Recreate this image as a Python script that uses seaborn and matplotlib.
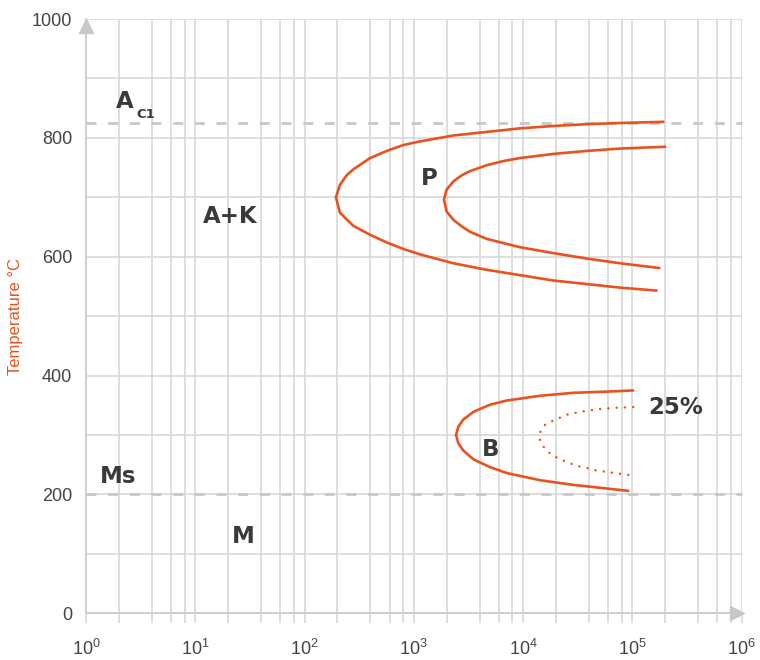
import matplotlib
matplotlib.use("Agg")
import matplotlib.pyplot as plt
import matplotlib.ticker as mticker
import pandas as pd
import seaborn as sns

# ---------------- data ----------------
# Pearlite start curve (outer): upper end -> nose -> lower end
p_start_time = [1.93e5, 7.73e4, 3.83e4, 1.89e4, 9.38e3, 4.65e3, 2.30e3, 1.14e3, 805, 566, 398, 280, 243, 211, 194,
                211, 243, 280, 398, 566, 805, 1.14e3, 2.30e3, 4.65e3, 9.38e3, 1.89e4, 3.83e4, 7.73e4, 1.67e5]
p_start_temp = [827, 825, 823, 820, 816, 810, 804, 794, 788, 778, 766, 747, 737, 721, 700,
                674, 663, 652, 637, 624, 613, 604, 589, 578, 569, 560, 554, 548, 543]

# Pearlite finish curve (inner)
p_end_time = [2.00e5, 7.73e4, 3.83e4, 1.90e4, 9.40e3, 6.61e3, 4.66e3, 3.27e3, 2.75e3, 2.31e3, 2.00e3, 1.89e3,
              2.00e3, 2.31e3, 2.75e3, 3.27e3, 4.66e3, 6.61e3, 9.40e3, 1.90e4, 3.83e4, 7.73e4, 1.77e5]
p_end_temp = [785, 782, 778, 773, 766, 761, 754, 744, 737, 727, 713, 696,
              676, 662, 651, 642, 630, 623, 616, 606, 597, 589, 581]

# Bainite start curve
b_start_time = [1.02e5, 5.83e4, 2.89e4, 1.43e4, 1.01e4, 7.10e3, 4.99e3, 3.52e3, 2.84e3, 2.56e3, 2.44e3,
                2.56e3, 2.84e3, 3.52e3, 4.99e3, 7.10e3, 1.01e4, 1.43e4, 2.89e4, 5.83e4, 9.20e4]
b_start_temp = [375, 373, 371, 366, 362, 358, 351, 339, 326, 314, 300,
                286, 274, 259, 246, 236, 230, 224, 216, 210, 206]

# Bainite 25 % curve (dotted)
b25_time = [1.02e5, 7.36e4, 5.18e4, 3.61e4, 2.60e4, 1.87e4, 1.59e4, 1.43e4, 1.41e4,
            1.45e4, 1.65e4, 1.94e4, 2.26e4, 2.65e4, 3.14e4, 3.75e4, 4.47e4, 5.32e4, 6.35e4, 7.57e4, 1.01e5]
b25_temp = [347, 346, 344, 340, 335, 324, 317, 304, 297,
            287, 273, 264, 258, 253, 248, 245, 241, 239, 237, 235, 232]

ac1_temp = 825
ms_temp = 200

x_ticks = [1e0, 1e1, 1e2, 1e3, 1e4, 1e5, 1e6]
x_tick_labels = ["$10^{0}$", "$10^{1}$", "$10^{2}$", "$10^{3}$", "$10^{4}$", "$10^{5}$", "$10^{6}$"]
y_ticks = [0, 200, 400, 600, 800, 1000]
y_label = "Temperature °C"

# ---------------- style ----------------
sns.set_theme(style="white")
plt.rcParams["font.family"] = ["Liberation Sans", "DejaVu Sans"]
plt.rcParams["mathtext.fontset"] = "custom"
plt.rcParams["mathtext.rm"] = "Liberation Sans"
plt.rcParams["mathtext.it"] = "Liberation Sans"
plt.rcParams["mathtext.default"] = "regular"

ORANGE = "#e8521f"
GRID = "#d5d5d5"
TXT = "#444444"
BOLD = "#3a3a3a"

fig = plt.figure(figsize=(7.6, 6.6), dpi=100)
ax = fig.add_axes([86 / 760, (660 - 613.3) / 660, (741.5 - 86) / 760, (613.3 - 19) / 660])

def curve(t, T, **kw):
    df = pd.DataFrame({"time": t, "temp": T})
    sns.lineplot(data=df, x="time", y="temp", sort=False, estimator=None, ax=ax,
                 color=ORANGE, zorder=5, **kw)

curve(p_start_time, p_start_temp, linewidth=1.9, solid_joinstyle="round")
curve(p_end_time, p_end_temp, linewidth=1.9, solid_joinstyle="round")
curve(b_start_time, b_start_temp, linewidth=1.9, solid_joinstyle="round")
curve(b25_time, b25_temp, linewidth=1.8, linestyle=(0, (0.01, 3.3)), dash_capstyle="round")

ax.axhline(ac1_temp, color="#c8c8c8", lw=2.0, dashes=(3.6, 4.2), zorder=3, clip_on=False)
ax.axhline(ms_temp, color="#c8c8c8", lw=2.0, dashes=(3.6, 4.2), zorder=3, clip_on=False)

ax.set_xscale("log")
ax.set_xlim(1, 1e6)
ax.set_ylim(0, 1000)

ax.set_xticks(x_ticks)
ax.set_xticklabels(x_tick_labels)
minor = [m * d for d in x_ticks[:-1] for m in (2, 4, 6, 8)]
ax.xaxis.set_minor_locator(mticker.FixedLocator(minor))
ax.xaxis.set_minor_formatter(mticker.NullFormatter())
ax.set_yticks(y_ticks)
ax.yaxis.set_minor_locator(mticker.MultipleLocator(100))

ax.grid(True, which="both", color=GRID, linewidth=1.1)
ax.set_axisbelow(True)

ax.tick_params(axis="x", which="both", direction="out", length=7.5, width=1.1, color=GRID,
               labelsize=13, labelcolor=TXT, pad=11, bottom=True)
ax.tick_params(axis="y", which="both", length=0, labelsize=13, labelcolor=TXT, pad=10)

for s in ["top", "right"]:
    ax.spines[s].set_visible(False)
for s in ["left", "bottom"]:
    ax.spines[s].set_color("#cfcfcf")
    ax.spines[s].set_linewidth(1.4)

# axis arrows
ax.plot([0], [0.989], marker="^", markersize=9.5, color="#c8c8c8", transform=ax.transAxes,
        clip_on=False, zorder=6)
ax.plot([0.993], [0], marker=">", markersize=9.5, color="#c8c8c8", transform=ax.transAxes,
        clip_on=False, zorder=6)

ax.set_xlabel("")
ax.set_ylabel(y_label, color=ORANGE, fontsize=12, labelpad=6)

# region labels
bold = dict(family="DejaVu Sans", fontweight="bold", color=BOLD, ha="center", va="center")
ax.text(2.27, 862, "A", fontsize=16.5, **bold)
ax.text(3.5, 840, "C1", fontsize=9.5, **bold)
ax.text(21.1, 667, "A+K", fontsize=16.5, **bold)
ax.text(1393, 732, "P", fontsize=16.5, **bold)
ax.text(5094, 276, "B", fontsize=16.5, **bold)
ax.text(2.49e5, 347, "25%", fontsize=16.5, **bold)
ax.text(1.96, 230, "Ms", fontsize=16.5, **bold)
ax.text(27.7, 129, "M", fontsize=16.5, **bold)

fig.savefig("out.png", dpi=100)
